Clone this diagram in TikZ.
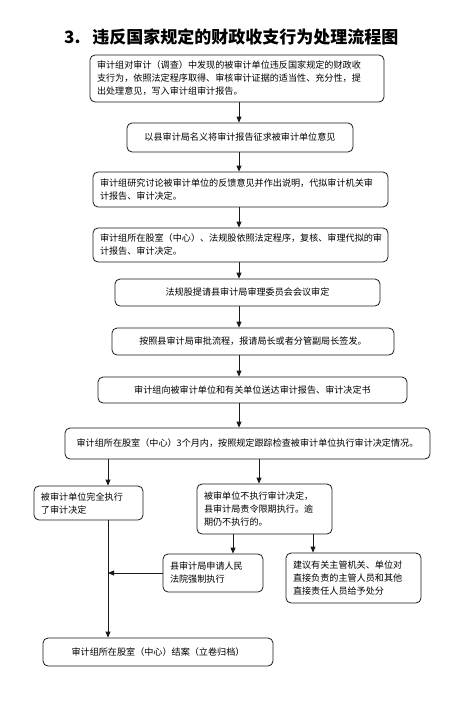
\documentclass[tikz,border=0pt]{standalone}
\usepackage{fontspec}
\usepackage{tikz}
\usetikzlibrary{arrows.meta, positioning, calc}
\setmainfont{Noto Sans CJK SC}
\definecolor{mydark}{RGB}{25,25,25}
\tikzset{
  block/.style={rectangle, draw=mydark, align=center,
    font=\fontsize{9.1}{13}\selectfont, rounded corners=5pt,
    line width=0.8pt, inner xsep=7pt, inner ysep=3pt},
  lblock/.style={block, align=left},
  heading/.style={font=\fontsize{17}{20}\selectfont\bfseries, inner sep=0pt},
  arrow/.style={-{Triangle[length=6pt,width=5pt]}, line width=0.8pt, color=mydark},
  line/.style={line width=0.8pt, color=mydark}
}

\begin{document}
\begin{tikzpicture}[x=1pt, y=-1pt]
  \useasboundingbox (0,0) rectangle (475,705);
  \node[heading, anchor=west] (ttl) at (64,37) {3.\hspace{0.7em}违反国家规定的财政收支行为处理流程图};

  % main column
  \node[lblock, text width=280pt, minimum height=47pt] (n1) at (237,78.5)
    {审计组对审计（调查）中发现的被审计单位违反国家规定的财政收\\支行为，依照法定程序取得、审核审计证据的适当性、充分性，提\\出处理意见，写入审计组审计报告。};
  \node[block, minimum width=226pt, minimum height=29pt] (n2) at (240,137.5)
    {以县审计局名义将审计报告征求被审计单位意见};
  \node[lblock, text width=281pt, minimum height=35pt] (n3) at (240.5,189.5)
    {审计组研究讨论被审计单位的反馈意见并作出说明，代拟审计机关审\\计报告、审计决定。};
  \node[lblock, text width=281pt, minimum height=34pt] (n4) at (240.5,245)
    {审计组所在股室（中心）、法规股依照法定程序，复核、审理代拟的审\\计报告、审计决定。};
  \node[block, minimum width=265pt, minimum height=27pt] (n5) at (247.5,292.5)
    {法规股提请县审计局审理委员会会议审定};
  \node[block, minimum width=282pt, minimum height=27pt] (n6) at (253,341.5)
    {按照县审计局审批流程，报请局长或者分管副局长签发。};
  \node[block, minimum width=309pt, minimum height=26pt] (n7) at (252.5,390)
    {审计组向被审计单位和有关单位送达审计报告、审计决定书};
  \node[block, minimum width=365pt, minimum height=31pt] (n8) at (247.5,443.5)
    {审计组所在股室（中心）3个月内，按照规定跟踪检查被审计单位执行审计决定情况。};

  % branches
  \node[lblock, text width=95pt, minimum height=34pt] (n9) at (88.5,503)
    {被审计单位完全执行\\了审计决定};
  \node[lblock, text width=121pt, minimum height=50pt] (n10) at (264.5,509)
    {被审单位不执行审计决定，\\县审计局责令限期执行。逾\\期仍不执行的。};
  \node[lblock, text width=86pt, minimum height=38pt] (n11) at (213,573)
    {县审计局申请人民\\法院强制执行};
  \node[lblock, text width=121pt, minimum height=50pt] (n12) at (353.5,578)
    {建议有关主管机关、单位对\\直接负责的主管人员和其他\\直接责任人员给予处分};
  \node[block, minimum width=230pt, minimum height=28pt] (n13) at (158,652)
    {审计组所在股室（中心）结案（立卷归档）};

  \coordinate (sp) at (239,0);
  \coordinate (c1) at (108,0);
  \coordinate (c2) at (259,0);
  \coordinate (c3) at (233,0);
  \coordinate (c4) at (313,0);

  \draw[arrow] (n1.south -| sp)--(n2.north -| sp);
  \draw[arrow] (n2.south -| sp)--(n3.north -| sp);
  \draw[arrow] (n3.south -| sp)--(n4.north -| sp);
  \draw[arrow] (n4.south -| sp)--(n5.north -| sp);
  \draw[arrow] (n5.south -| sp)--(n6.north -| sp);
  \draw[arrow] (n6.south -| sp)--(n7.north -| sp);
  \draw[arrow] (n7.south -| sp)--(n8.north -| sp);
  \draw[arrow] (n8.south -| c1)--(n9.north -| c1);
  \draw[arrow] (n8.south -| c2)--(n10.north -| c2);
  \draw[arrow] (n10.south -| c3)--(n11.north -| c3);
  \draw[arrow] (n10.south -| c4)--(n12.north -| c4);
  \draw[arrow] (n9.south -| c1)--(n13.north -| c1);
  \draw[arrow] (n11.west)--(n11.west -| c1);
\end{tikzpicture}
\end{document}
